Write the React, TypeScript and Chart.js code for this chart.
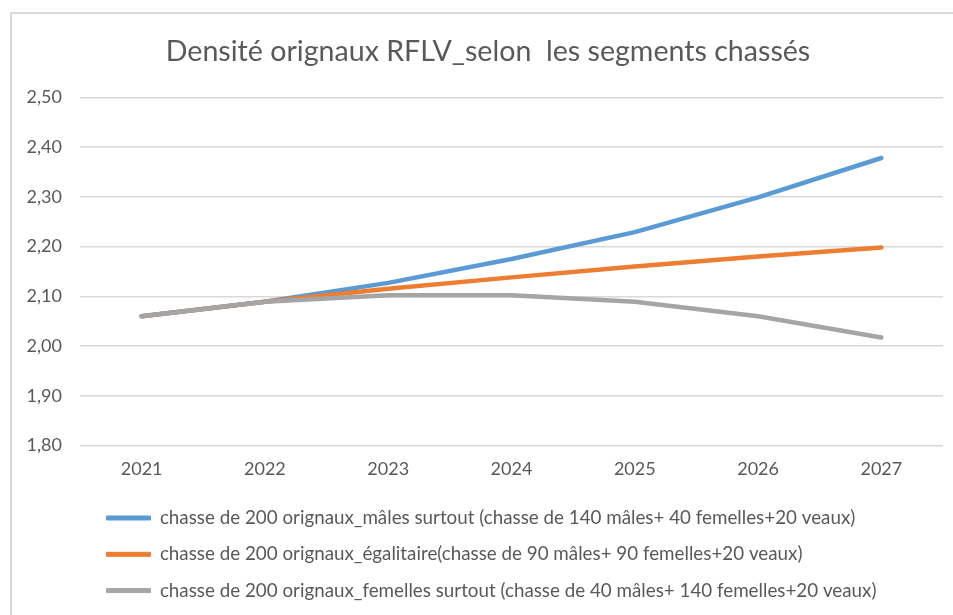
import React, { useEffect, useRef } from "react";
import { Chart, registerables } from "chart.js";

Chart.register(...registerables);

const TITLE = "Densité orignaux RFLV_selon  les segments chassés";
const YEARS = ["2021", "2022", "2023", "2024", "2025", "2026", "2027"];
const SERIES_NAMES = [
  "chasse de 200 orignaux_mâles surtout (chasse de 140 mâles+ 40 femelles+20 veaux)",
  "chasse de 200 orignaux_égalitaire(chasse de 90 mâles+ 90 femelles+20 veaux)",
  "chasse de 200 orignaux_femelles surtout (chasse de 40 mâles+ 140 femelles+20 veaux)",
];
const MALES = [2.06, 2.089, 2.127, 2.175, 2.229, 2.299, 2.378];
const EGAL = [2.06, 2.089, 2.115, 2.138, 2.16, 2.18, 2.198];
const FEMELLES = [2.06, 2.089, 2.102, 2.102, 2.089, 2.06, 2.017];
const COLORS = ["#5B9BD5", "#ED7D31", "#A5A5A5"];
const Y_MIN = 1.8;
const Y_MAX = 2.5;
const Y_STEP = 0.1;

const FONT = "Lato, 'Open Sans', sans-serif";
const TEXT = "#595959";

const CANVAS_W = 952;
const CANVAS_H = 598;

export default function App() {
  const ref = useRef<HTMLCanvasElement | null>(null);

  useEffect(() => {
    if (!ref.current) return;
    const values = [MALES, EGAL, FEMELLES];
    const shiftBoxes = {
      id: "shiftBoxes",
      afterLayout(chart: any) {
        const l = chart.legend;
        if (l) {
          l.left += 9;
          l.right += 9;
          l.top -= 2;
          l.bottom -= 2;
        }
        const t = chart.titleBlock;
        if (t) {
          t.left += 10.5;
          t.right += 10.5;
        }
      },
    };
    const chart = new Chart(ref.current, {
      type: "line",
      data: {
        labels: YEARS,
        datasets: values.map((v, i) => ({
          label: SERIES_NAMES[i],
          data: v,
          borderColor: COLORS[i],
          backgroundColor: COLORS[i],
          borderWidth: 4.5,
          pointRadius: 0,
          borderCapStyle: "round" as const,
          borderJoinStyle: "round" as const,
          tension: 0,
          order: 3 - i,
        })),
      },
      options: {
        animation: false,
        responsive: false,
        layout: { padding: { left: 0, right: 21, top: 0, bottom: 0 } },
        plugins: {
          title: {
            display: true,
            text: TITLE,
            color: TEXT,
            font: { family: FONT, size: 28.6, weight: "normal" },
            padding: { top: 21, bottom: 28 },
          },
          legend: {
            display: true,
            position: "bottom",
            align: "start",
            fullSize: false,
            labels: {
              color: TEXT,
              font: { family: FONT, size: 18.8 },
              boxWidth: 44,
              boxHeight: 4,
              padding: 17.5,
              generateLabels(chart: any) {
                return chart.data.datasets.map((ds: any, i: number) => ({
                  text: ds.label,
                  fillStyle: ds.borderColor,
                  strokeStyle: ds.borderColor,
                  lineWidth: 1,
                  hidden: false,
                  datasetIndex: i,
                  fontColor: TEXT,
                }));
              },
            },
          },
          tooltip: { enabled: false },
        },
        scales: {
          x: {
            offset: true,
            grid: { display: false, drawTicks: false },
            border: { display: false },
            ticks: {
              color: TEXT,
              font: { family: FONT, size: 18 },
              padding: 13,
            },
          },
          y: {
            min: Y_MIN,
            max: Y_MAX,
            afterFit(scale: any) {
              scale.width = 68;
            },
            grid: { color: "#D9D9D9", lineWidth: 1.5, drawTicks: false },
            border: { display: false },
            ticks: {
              stepSize: Y_STEP,
              color: TEXT,
              font: { family: FONT, size: 18 },
              padding: 18,
              callback: (v: any) => Number(v).toFixed(2).replace(".", ","),
            },
          },
        },
      },
      plugins: [shiftBoxes],
    });
    return () => chart.destroy();
  }, []);

  return (
    <div
      style={{
        position: "absolute",
        left: 0,
        top: 0,
        width: 953,
        height: 615,
        overflow: "hidden",
        background: "#fff",
      }}
    >
      <div
        style={{
          position: "absolute",
          left: 10,
          top: 12,
          width: 956,
          height: 640,
          borderLeft: "2px solid #D9D9D9",
          borderTop: "2px solid #D9D9D9",
          borderRight: "2px solid #D9D9D9",
          boxSizing: "border-box",
        }}
      >
        <canvas
          ref={ref}
          width={CANVAS_W}
          height={CANVAS_H}
          style={{ position: "absolute", left: 0, top: 0, width: CANVAS_W, height: CANVAS_H }}
        />
      </div>
    </div>
  );
}
